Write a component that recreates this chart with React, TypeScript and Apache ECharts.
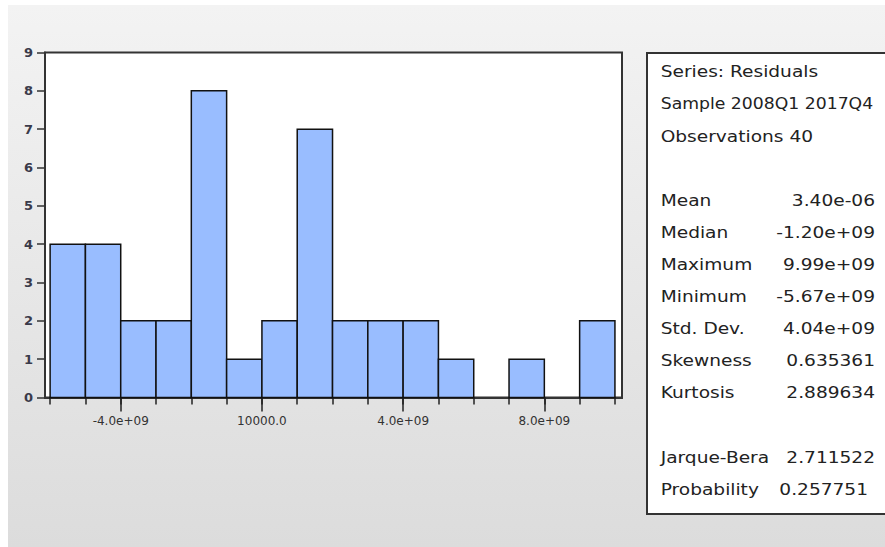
import React, { useEffect, useRef } from "react";
import * as echarts from "echarts";

// Histogram bins of the residuals (bin edges and counts per bin)
const binEdges = [
  -6e9, -5e9, -4e9, -3e9, -2e9, -1e9, 0, 1e9, 2e9, 3e9, 4e9, 5e9, 6e9, 7e9, 8e9, 9e9, 10e9,
];
const binCounts = [4, 4, 2, 2, 8, 1, 2, 7, 2, 2, 2, 1, 0, 1, 0, 2];

// Labelled ticks on the value axis
const majorTicks = [-4e9, 1e4, 4e9, 8e9];

// Descriptive statistics panel
const statHeader = ["Series: Residuals", "Sample 2008Q1 2017Q4", "Observations 40"];
const statNames = ["Mean", "Median", "Maximum", "Minimum", "Std. Dev.", "Skewness", "Kurtosis"];
const statValues = ["3.40e-06", "-1.20e+09", "9.99e+09", "-5.67e+09", "4.04e+09", "0.635361", "2.889634"];
const testNames = ["Jarque-Bera", "Probability"];
const testValues = ["2.711522", "0.257751"];

const FONT = "DejaVu Sans";

function fmtTick(v: number): string {
  if (v === 1e4) return "10000.0";
  return (v / 1e9).toFixed(1) + "e+09";
}

export default function App() {
  const ref = useRef<HTMLDivElement>(null);

  useEffect(() => {
    document.body.style.margin = "0";
    if (!ref.current) return;
    const chart = echarts.init(ref.current, undefined, { renderer: "svg" });

    const bins = binCounts.map((c, i) => [binEdges[i], binEdges[i + 1], c]);

    const textEl = (text: string, x: number, y: number, align: string, sx = 1.24) => ({
      type: "text",
      x,
      y,
      scaleX: sx,
      style: {
        text,
        fontSize: 15,
        fontFamily: FONT,
        fill: "#222",
        textAlign: align,
        verticalAlign: "middle",
      },
    });

    const lineStep = 32.1;
    const firstLine = 67;
    const textLeft = 652.7;
    const valueRight = 867;
    const graphics: any[] = [
      {
        type: "rect",
        shape: { x: 639, y: 48, width: 260, height: 461 },
        style: { fill: "#ffffff", stroke: "#333", lineWidth: 2 },
      },
    ];
    statHeader.forEach((t, i) =>
      graphics.push(textEl(t, textLeft, firstLine + lineStep * i, "left", i === 1 ? 1.15 : 1.24))
    );
    statNames.forEach((t, i) => {
      const y = firstLine + lineStep * (i + 4);
      graphics.push(textEl(t, textLeft, y, "left"));
      graphics.push(textEl(statValues[i], valueRight, y, "right"));
    });
    testNames.forEach((t, i) => {
      const y = firstLine + lineStep * (i + 12);
      graphics.push(textEl(t, textLeft, y, "left"));
      graphics.push(textEl(testValues[i], i === 1 ? valueRight - 7 : valueRight, y, "right"));
    });

    const xMin = -6.145e9;
    const xMax = 10.2e9;
    const axisLineStyle = { color: "#333", width: 2 };

    chart.setOption({
      animation: false,
      backgroundColor: {
        type: "linear",
        x: 0,
        y: 0,
        x2: 0,
        y2: 1,
        colorStops: [
          { offset: 0, color: "#f3f3f3" },
          { offset: 1, color: "#dcdcdc" },
        ],
      },
      grid: {
        left: 37,
        top: 47.5,
        width: 577,
        height: 345,
        show: true,
        backgroundColor: "#ffffff",
        borderColor: "#333",
        borderWidth: 2,
      },
      xAxis: [
        {
          // bin-edge ticks
          type: "value",
          min: xMin,
          max: xMax,
          position: "bottom",
          axisLine: { show: true, onZero: false, lineStyle: axisLineStyle },
          axisTick: {
            show: true,
            customValues: binEdges,
            length: 7,
            lineStyle: { color: "#222", width: 1.5 },
          },
          axisLabel: { show: false },
          splitLine: { show: false },
        },
        {
          // labelled ticks
          type: "value",
          min: xMin,
          max: xMax,
          position: "bottom",
          axisLine: { show: true, onZero: false, lineStyle: axisLineStyle },
          axisTick: {
            show: true,
            customValues: majorTicks,
            length: 14,
            lineStyle: { color: "#222", width: 1.5 },
          },
          axisLabel: {
            show: true,
            customValues: majorTicks,
            formatter: fmtTick,
            margin: 17,
            fontSize: 12,
            fontFamily: FONT,
            color: "#333",
          },
          splitLine: { show: false },
        },
      ],
      yAxis: {
        type: "value",
        min: 0,
        max: 9,
        interval: 1,
        axisLine: { show: true, onZero: false, lineStyle: axisLineStyle },
        axisTick: { show: true, length: 8, lineStyle: { color: "#333", width: 1.5 } },
        axisLabel: {
          margin: 12,
          fontSize: 13,
          fontWeight: "bold",
          fontFamily: FONT,
          color: "#3a3a4a",
        },
        splitLine: { show: false },
      },
      series: [
        {
          type: "custom",
          xAxisIndex: 0,
          yAxisIndex: 0,
          encode: { x: [0, 1], y: 2 },
          data: bins,
          renderItem: (_params: any, api: any) => {
            const x0 = api.value(0);
            const x1 = api.value(1);
            const c = api.value(2);
            if (!c) return null;
            const p0 = api.coord([x0, c]);
            const p1 = api.coord([x1, 0]);
            return {
              type: "rect",
              shape: { x: p0[0], y: p0[1], width: p1[0] - p0[0], height: p1[1] - p0[1] },
              style: { fill: "#99bdff", stroke: "#111", lineWidth: 1.5 },
            };
          },
        },
      ],
      graphic: graphics,
    });

    return () => chart.dispose();
  }, []);

  return (
    <div style={{ position: "relative", width: 885, height: 547, background: "#ffffff" }}>
      <div ref={ref} style={{ position: "absolute", left: 8, top: 5, width: 877, height: 542 }} />
    </div>
  );
}
